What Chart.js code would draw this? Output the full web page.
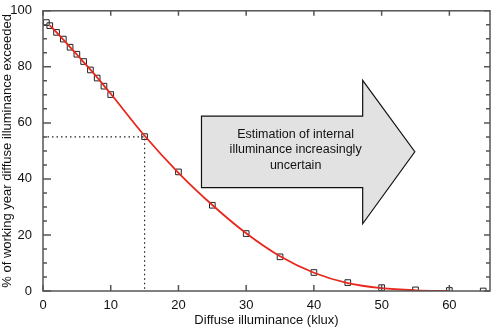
<!DOCTYPE html>
<html><head><meta charset="utf-8">
<script src="https://cdn.jsdelivr.net/npm/chart.js@4/dist/chart.umd.min.js"></script>
<style>html,body{margin:0;padding:0;background:#fff}#wrap{width:497px;height:327px}</style>
</head><body><div id="wrap"><canvas id="c" width="497" height="327"></canvas></div>
<script>
// Measured points (x = diffuse illuminance klux, y = % of working year exceeded)
const measX = [0.5,1,2,3,4,5,6,7,8,9,10,15,20,25,30,35,40,45,50,55,60,65];
const measY = [95.8,94.7,92.3,89.9,87.0,84.5,81.9,78.9,76.0,73.1,70.1,55.1,42.5,30.6,20.5,12.2,6.6,3.0,1.2,0.4,0.2,0.0];
// Fitted curve
const fitX = [1,2,3,4,5,6,7,8,9,10,15,20,25,30,35,40,45,50,55,60];
const fitY = [94.8,92.3,89.7,87.0,84.4,81.7,79.0,76.2,73.3,70.4,55.4,42.2,30.7,20.6,12.4,6.5,2.8,1.0,0.25,0.0];
// Guide (dotted) line
const guideX = [0,15,15];
const guideY = [55,55,0];
// Arrow annotation (data units)
const arrowText = ["Estimation of internal","illuminance increasingly","uncertain"];
const arrowBody = {x0:23.4, x1:47.2, y0:36.9, y1:62.4};
const arrowHead = {top:75.2, bottom:24.0, tipX:54.9, tipY:49.7};
const textCenter = {x:37.3, ys:[55.9,50.4,44.8]};
const xTicks = [0,10,20,30,40,50,60];
const yTicks = [0,20,40,60,80,100];

const FONT = '"Liberation Sans", Arial, Helvetica, sans-serif';
const toPts = (xs, ys) => xs.map((x,i)=>({x:x,y:ys[i]}));

const framePlugin = {
  id:'frame',
  beforeDatasetsDraw(chart){
    const {ctx, scales:{x,y}} = chart;
    const P = (a,b)=>[x.getPixelForValue(a), y.getPixelForValue(b)];
    const pts = [P(arrowBody.x0,arrowBody.y1),P(arrowBody.x1,arrowBody.y1),P(arrowBody.x1,arrowHead.top),
      P(arrowHead.tipX,arrowHead.tipY),P(arrowBody.x1,arrowHead.bottom),P(arrowBody.x1,arrowBody.y0),P(arrowBody.x0,arrowBody.y0)];
    ctx.save();
    ctx.beginPath();
    pts.forEach((p,i)=> i?ctx.lineTo(p[0],p[1]):ctx.moveTo(p[0],p[1]));
    ctx.closePath();
    ctx.fillStyle='#e2e2e2'; ctx.fill();
    ctx.strokeStyle='#111'; ctx.lineWidth=1.2; ctx.lineJoin='miter'; ctx.stroke();
    ctx.fillStyle='#111'; ctx.font='12.5px '+FONT; ctx.textAlign='center'; ctx.textBaseline='middle';
    arrowText.forEach((t,i)=> ctx.fillText(t, x.getPixelForValue(textCenter.x), y.getPixelForValue(textCenter.ys[i])));
    ctx.restore();
  },
  afterDraw(chart){
    const {ctx, chartArea:a, scales:{x,y}} = chart;
    ctx.save();
    ctx.strokeStyle='#555'; ctx.lineWidth=1.5;
    ctx.strokeRect(a.left,a.top,a.right-a.left,a.bottom-a.top);
    ctx.beginPath();
    xTicks.forEach(v=>{const px=x.getPixelForValue(v);
      ctx.moveTo(px,a.bottom); ctx.lineTo(px,a.bottom-6);
      ctx.moveTo(px,a.top); ctx.lineTo(px,a.top+5);});
    for(let v=0; v<=100; v+=5){const py=y.getPixelForValue(v); const maj=v%20===0;
      ctx.moveTo(a.left,py); ctx.lineTo(a.left+(maj?8:4),py);
      ctx.moveTo(a.right,py); ctx.lineTo(a.right-(maj?6:4),py);}
    ctx.stroke();
    ctx.restore();
  }
};

new Chart(document.getElementById('c'), {
  type:'scatter',
  data:{datasets:[
    {data:toPts(guideX,guideY), showLine:true, borderColor:'#222', borderWidth:1.2, borderDash:[1.5,3], pointRadius:0},
    {data:toPts(fitX,fitY), showLine:true, borderColor:'#e8281c', borderWidth:1.8, pointRadius:0, cubicInterpolationMode:'monotone'},
    {data:toPts(measX,measY), showLine:false, pointStyle:'rect', pointRadius:4, borderColor:'#222', borderWidth:1, backgroundColor:'rgba(0,0,0,0)'}
  ]},
  options:{
    responsive:false, animation:false, events:[],
    layout:{padding:{top:5,right:7,left:0,bottom:0}},
    plugins:{legend:{display:false}, tooltip:{enabled:false}},
    scales:{
      x:{type:'linear', min:0, max:66,
        afterFit(s){s.height=36;},
        afterBuildTicks(s){s.ticks = xTicks.map(v=>({value:v}));},
        grid:{display:false}, border:{display:false},
        ticks:{padding:-1, color:'#111', font:{family:FONT,size:13}},
        title:{display:true, text:'Diffuse illuminance (klux)', color:'#111', font:{family:FONT,size:13,lineHeight:1}, padding:{top:0,bottom:0}}
      },
      y:{type:'linear', min:0, max:100,
        afterFit(s){s.width=43;},
        afterBuildTicks(s){s.ticks = yTicks.map(v=>({value:v}));},
        grid:{display:false}, border:{display:false},
        ticks:{padding:3, color:'#111', font:{family:FONT,size:13}},
        title:{display:true, text:'% of working year diffuse illuminance exceeded', color:'#111', font:{family:FONT,size:13}, padding:{top:0,bottom:0}}
      }
    }
  },
  plugins:[framePlugin]
});
</script></body></html>
